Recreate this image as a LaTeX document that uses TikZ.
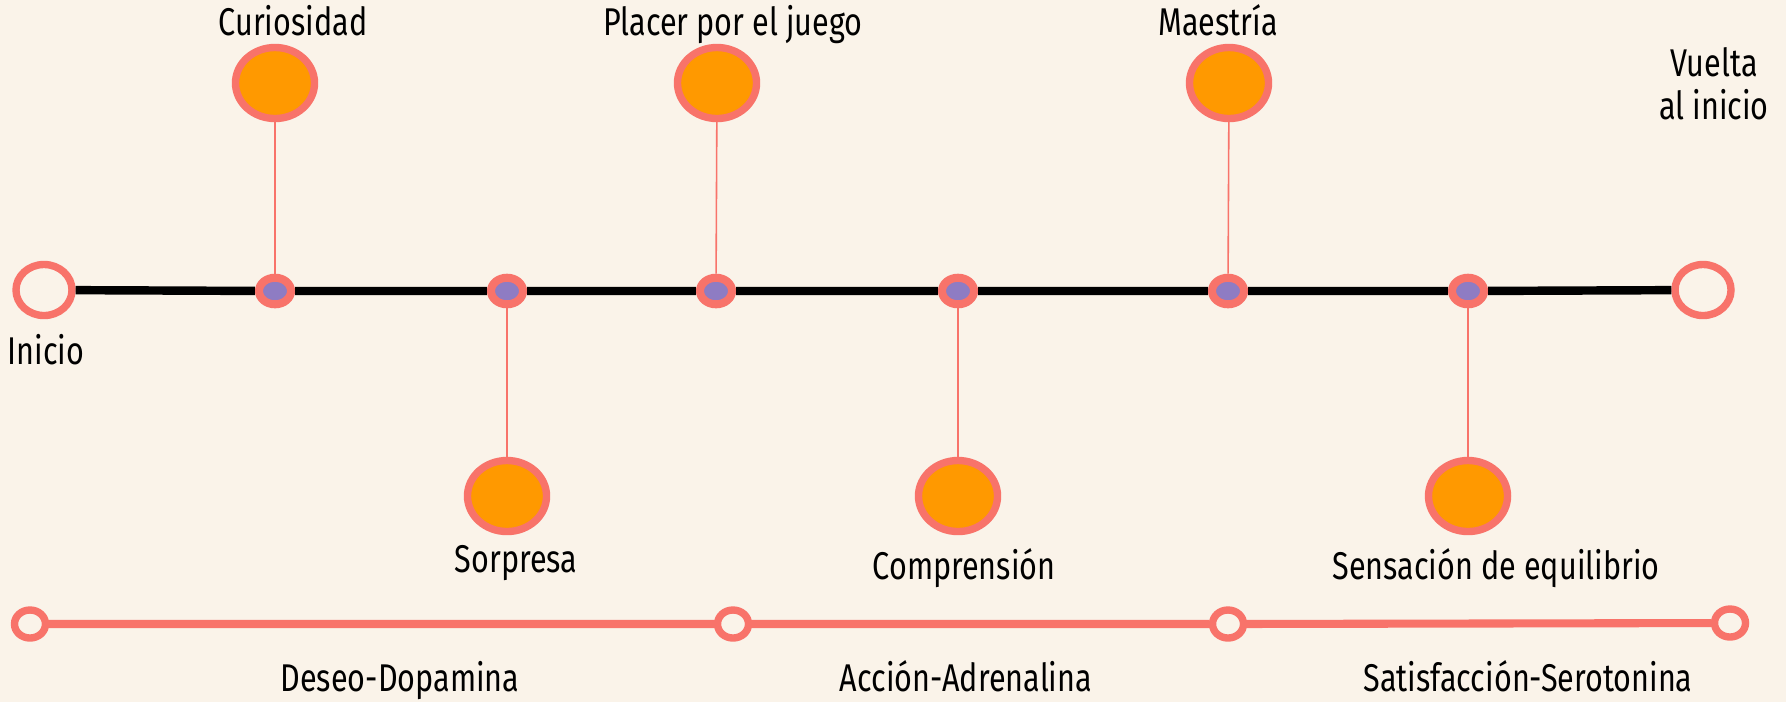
\documentclass[tikz,border=0pt]{standalone}
\usepackage{fontspec}
\setmainfont[FakeStretch=0.79]{Fira Sans}
\usetikzlibrary{shapes.geometric, positioning}

\definecolor{fondo}{HTML}{FAF3E9}
\definecolor{salmon}{HTML}{F8736A}
\definecolor{naranja}{HTML}{FF9900}
\definecolor{lila}{HTML}{8E7CC3}

\tikzset{
  hito/.style={ellipse, draw=salmon, fill=lila, line width=2.3pt, outer sep=auto,
    minimum width=0.32cm, minimum height=0.265cm, inner sep=0pt},
  globo/.style={ellipse, draw=salmon, fill=naranja, line width=2.1pt, outer sep=auto,
    minimum width=0.79cm, minimum height=0.71cm, inner sep=0pt},
  extremo/.style={ellipse, draw=salmon, fill=fondo, line width=2.1pt, outer sep=auto,
    minimum width=0.56cm, minimum height=0.51cm, inner sep=0pt},
  anillo/.style={ellipse, draw=salmon, fill=fondo, line width=2.1pt, outer sep=auto,
    minimum width=0.31cm, minimum height=0.28cm, inner sep=0pt},
  etiqueta/.style={anchor=base, inner sep=0pt, font=\fontsize{11}{12.2}\selectfont},
}

\begin{document}
\begin{tikzpicture}[x=0.01cm, y=-0.01cm]
    % fondo
    \fill[fondo] (0,0) rectangle (1786,702);

    % extremos del eje
    \node[extremo] (inicio) at (44,290) {};
    \node[extremo] (vuelta) at (1703,290) {};

    % hitos sobre el eje
    \node[hito] (h1) at (275,291) {};
    \node[hito] (h2) at (507,291) {};
    \node[hito] (h3) at (716,291) {};
    \node[hito] (h4) at (958,291) {};
    \node[hito] (h5) at (1228,291) {};
    \node[hito] (h6) at (1468,291) {};

    % eje principal
    \draw[line width=2.4pt] (inicio) -- (h1) -- (h2) -- (h3) -- (h4) -- (h5) -- (h6) -- (vuelta);

    % globos (arriba y abajo)
    \node[globo] (g1) at (275,83) {};
    \node[globo] (g2) at (507,496) {};
    \node[globo] (g3) at (717,83) {};
    \node[globo] (g4) at (958,496) {};
    \node[globo] (g5) at (1229,83) {};
    \node[globo] (g6) at (1468,496) {};

    \foreach \i in {1,...,6}
      \draw[salmon, line width=0.45pt] (h\i) -- (g\i);

    % textos
    \node[etiqueta] (t1) at (293,35) {Curiosidad};
    \node[etiqueta] (t2) at (516,572) {Sorpresa};
    \node[etiqueta] (t3) at (733,35) {Placer por el juego};
    \node[etiqueta] (t4) at (964,579) {Comprensión};
    \node[etiqueta] (t5) at (1218,35) {Maestría};
    \node[etiqueta] (t6) at (1496,579) {Sensación de equilibrio};
    \node[etiqueta] (tinicio) at (46,364) {Inicio};
    \node[etiqueta, align=center] (tvuelta) at (1714,119) {Vuelta\\al inicio};

    % fases
    \node[anillo] (f1) at (30,624) {};
    \node[anillo] (f2) at (733,624) {};
    \node[anillo] (f3) at (1228,624) {};
    \node[anillo] (f4) at (1730,623) {};
    \draw[salmon, line width=2.3pt] (f1) -- (f2) -- (f3) -- (f4);

    \node[etiqueta] (fase1) at (400,691) {Deseo-Dopamina};
    \node[etiqueta] (fase2) at (966,691) {Acción-Adrenalina};
    \node[etiqueta] (fase3) at (1528,691) {Satisfacción-Serotonina};
\end{tikzpicture}
\end{document}
